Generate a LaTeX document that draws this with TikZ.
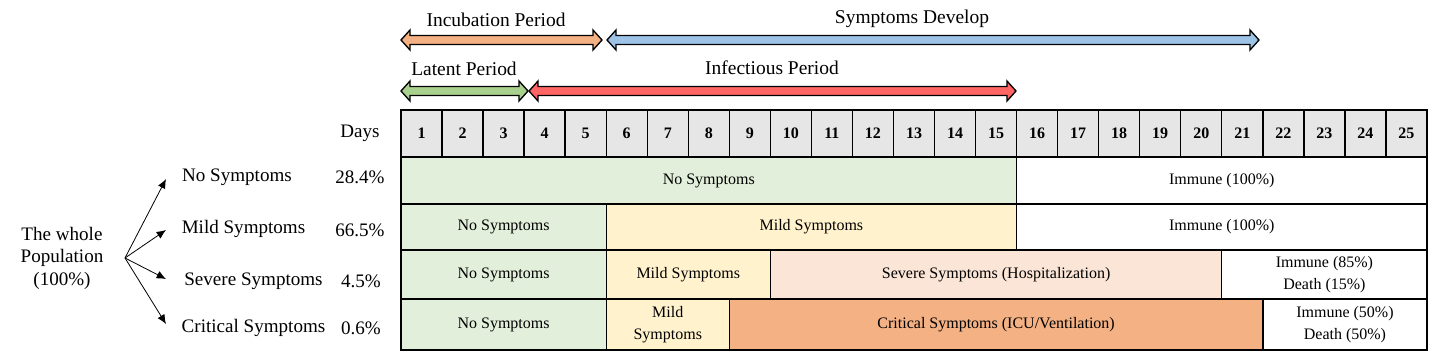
\documentclass[tikz,border=0pt]{standalone}
\usepackage{fontspec}
\setmainfont{Liberation Serif}
\usetikzlibrary{arrows.meta}
\definecolor{hdr}{HTML}{E7E6E6}
\definecolor{cgreen}{HTML}{E2EFDA}
\definecolor{cyellow}{HTML}{FFF2CC}
\definecolor{cpink}{HTML}{FBE5D6}
\definecolor{corange}{HTML}{F4B183}
\definecolor{aorange}{HTML}{F4B183}
\definecolor{ablue}{HTML}{9DC3E6}
\definecolor{agreen}{HTML}{A9D18E}
\definecolor{ared}{HTML}{FF6565}
\newcommand\dblarrow[4]{% x1, x2, y, color
  \draw[blockarr, fill=#4] (#1,#3) -- (#1+9,#3-10) -- (#1+9,#3-4.5) -- (#2-9,#3-4.5) -- (#2-9,#3-10) -- (#2,#3)
    -- (#2-9,#3+10) -- (#2-9,#3+4.5) -- (#1+9,#3+4.5) -- (#1+9,#3+10) -- cycle;}
\begin{document}
\begin{tikzpicture}[x=0.75pt,y=-0.75pt,
  blockarr/.style={draw=black, line width=1pt, line join=miter},
  grid/.style={draw=black, line width=1pt},
  toplbl/.style={font=\fontsize{14.6}{18}\selectfont, inner sep=0pt},
  leftlbl/.style={font=\fontsize{14.3}{17}\selectfont, inner sep=0pt},
  celltxt/.style={font=\fontsize{12}{16}\selectfont, align=center, inner sep=0pt},
  daytxt/.style={font=\bfseries\fontsize{12}{14}\selectfont, inner sep=0pt},
  fan/.style={-{Latex[length=7pt,width=6pt]}, line width=0.6pt}]
\useasboundingbox (0,0) rectangle (1429,355);
% period arrows
\dblarrow{401}{602}{40}{aorange}
\dblarrow{607}{1259}{40}{ablue}
\dblarrow{401}{528}{91}{agreen}
\dblarrow{529}{1016}{91}{ared}
\node[toplbl] (lincub) at (496,20) {Incubation Period};
\node[toplbl] (lsympt) at (912,19) {Symptoms Develop};
\node[toplbl] (llat) at (464,69) {Latent Period};
\node[toplbl] (linf) at (772,68) {Infectious Period};
% header
\node[leftlbl] (days) at (360,133) {Days};
\foreach \d in {1,...,25}{
  \pgfmathsetmacro\xa{401+(\d-1)*41.04}
  \pgfmathsetmacro\xb{401+\d*41.04}
  \draw[grid, fill=hdr] (\xa,110) rectangle (\xb,157) node[midway, daytxt] (day\d) {\d};
}
% rows
\draw[grid, fill=cgreen] (401,157) rectangle (1016.6,204) node[midway, celltxt] (r1a) {No Symptoms};
\draw[grid, fill=white] (1016.6,157) rectangle (1427,204) node[midway, celltxt] (r1b) {Immune (100\%)};
\draw[grid, fill=cgreen] (401,204) rectangle (606.2,250) node[midway, celltxt] (r2a) {No Symptoms};
\draw[grid, fill=cyellow] (606.2,204) rectangle (1016.6,250) node[midway, celltxt] (r2b) {Mild Symptoms};
\draw[grid, fill=white] (1016.6,204) rectangle (1427,250) node[midway, celltxt] (r2c) {Immune (100\%)};
\draw[grid, fill=cgreen] (401,250) rectangle (606.2,299) node[midway, celltxt] (r3a) {No Symptoms};
\draw[grid, fill=cyellow] (606.2,250) rectangle (770.4,299) node[midway, celltxt] (r3b) {Mild Symptoms};
\draw[grid, fill=cpink] (770.4,250) rectangle (1221.8,299) node[midway, celltxt] (r3c) {Severe Symptoms (Hospitalization)};
\draw[grid, fill=white] (1221.8,250) rectangle (1427,299) node[midway, celltxt] (r3d) {Immune (85\%)\\Death (15\%)};
\draw[grid, fill=cgreen] (401,299) rectangle (606.2,350) node[midway, celltxt] (r4a) {No Symptoms};
\draw[grid, fill=cyellow] (606.2,299) rectangle (729.3,350) node[midway, celltxt] (r4b) {Mild\\Symptoms};
\draw[grid, fill=corange] (729.3,299) rectangle (1262.9,350) node[midway, celltxt] (r4c) {Critical Symptoms (ICU/Ventilation)};
\draw[grid, fill=white] (1262.9,299) rectangle (1427,350) node[midway, celltxt] (r4d) {Immune (50\%)\\Death (50\%)};
% left side
\node[leftlbl, align=center, font=\fontsize{14.3}{16.9}\selectfont] (pop) at (62,258) {The whole\\Population\\(100\%)};
\coordinate (src) at (125,258);
\coordinate (t1) at (166,179);
\coordinate (t2) at (166,230);
\coordinate (t3) at (166,279);
\coordinate (t4) at (166,324);
\draw[fan] (src) -- (t1);
\draw[fan] (src) -- (t2);
\draw[fan] (src) -- (t3);
\draw[fan] (src) -- (t4);
\node[leftlbl] (g1) at (237,177) {No Symptoms};
\node[leftlbl] (g2) at (243.5,229) {Mild Symptoms};
\node[leftlbl] (g3) at (253.5,281) {Severe Symptoms};
\node[leftlbl] (g4) at (253.5,328) {Critical Symptoms};
\node[leftlbl] (p1) at (360,177) {28.4\%};
\node[leftlbl] (p2) at (360,230) {66.5\%};
\node[leftlbl] (p3) at (361,281) {4.5\%};
\node[leftlbl] (p4) at (361,328) {0.6\%};
\end{tikzpicture}
\end{document}
